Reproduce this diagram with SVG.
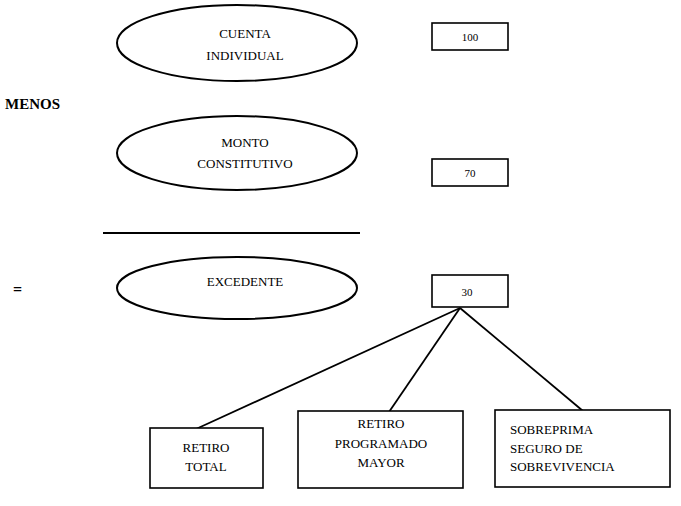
<svg xmlns="http://www.w3.org/2000/svg" width="681" height="506" viewBox="0 0 681 506">
<style>
.sh{fill:#fff;stroke:#000;stroke-width:2}
.bx{fill:#fff;stroke:#000;stroke-width:1.6}
.t{font-family:"Liberation Serif","Times New Roman",serif;font-size:13px;fill:#000;text-anchor:middle}
.n{font-family:"Liberation Serif","Times New Roman",serif;font-size:11px;fill:#000;text-anchor:middle}
.l{font-family:"Liberation Serif","Times New Roman",serif;font-size:13px;fill:#000}
.c{stroke:#000;stroke-width:1.8;fill:none}
</style>
<rect width="681" height="506" fill="#fff"/>
<g id="connectors">
<line class="c" x1="103" y1="233" x2="360" y2="233"/>
<line class="c" x1="460" y1="308" x2="196" y2="429"/>
<line class="c" x1="460" y1="308" x2="389" y2="412"/>
<line class="c" x1="460" y1="308" x2="583" y2="411"/>
</g>
<g id="cuenta">
<ellipse class="sh" cx="237" cy="43" rx="120" ry="38"/>
<text class="t" x="245" y="38">CUENTA</text>
<text class="t" x="245" y="60">INDIVIDUAL</text>
</g>
<g id="v100">
<rect class="bx" x="432" y="23" width="76" height="27"/>
<text class="n" x="470" y="41">100</text>
</g>
<g id="menos">
<text x="5" y="109" style="font-family:'Liberation Serif','Times New Roman',serif;font-size:15px;font-weight:bold">MENOS</text>
</g>
<g id="monto">
<ellipse class="sh" cx="237" cy="153" rx="120" ry="37"/>
<text class="t" x="245" y="147">MONTO</text>
<text class="t" x="245" y="168">CONSTITUTIVO</text>
</g>
<g id="v70">
<rect class="bx" x="432" y="159" width="76" height="27"/>
<text class="n" x="470" y="177">70</text>
</g>
<g id="igual">
<text x="13" y="295" style="font-family:'Liberation Serif','Times New Roman',serif;font-size:16px;font-weight:bold">=</text>
</g>
<g id="excedente">
<ellipse class="sh" cx="237" cy="288" rx="120" ry="31"/>
<text class="t" x="245" y="286">EXCEDENTE</text>
</g>
<g id="v30">
<rect class="bx" x="432" y="275" width="76" height="32"/>
<text class="n" x="467" y="296">30</text>
</g>
<g id="retiroTotal">
<rect class="bx" x="150" y="428" width="113" height="60"/>
<text class="t" x="206" y="452">RETIRO</text>
<text class="t" x="206" y="471">TOTAL</text>
</g>
<g id="retiroProgramado">
<rect class="bx" x="298" y="411" width="165" height="77"/>
<text class="t" x="381" y="428">RETIRO</text>
<text class="t" x="381" y="448">PROGRAMADO</text>
<text class="t" x="381" y="467">MAYOR</text>
</g>
<g id="sobreprima">
<rect class="bx" x="495" y="410" width="175" height="77"/>
<text class="l" x="510" y="434">SOBREPRIMA</text>
<text class="l" x="510" y="453">SEGURO DE</text>
<text class="l" x="510" y="471">SOBREVIVENCIA</text>
</g>
</svg>
